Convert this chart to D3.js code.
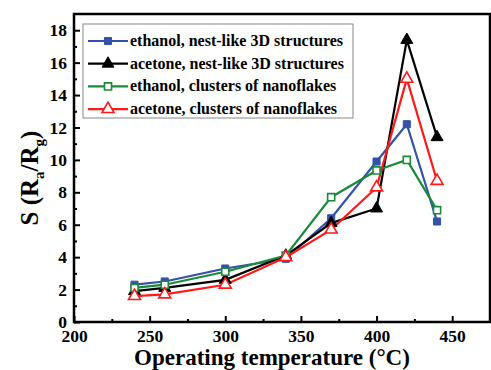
<!DOCTYPE html>
<html>
<head>
<meta charset="utf-8">
<script src="https://cdn.jsdelivr.net/npm/d3@7/dist/d3.min.js"></script>
<style>
  body { margin: 0; background: #fff; }
</style>
</head>
<body>
<div id="chart"></div>
<script>
// data
const temps = [240, 260, 300, 340, 370, 400, 420, 440];
const ethanolNest = [2.3, 2.5, 3.3, 3.9, 6.4, 9.9, 12.2, 6.2];
const acetoneNest = [1.9, 2.1, 2.6, 4.1, 6.1, 7.0, 17.4, 11.4];
const ethanolClusters = [2.1, 2.3, 3.1, 4.1, 7.7, 9.35, 10.0, 6.9];
const acetoneClusters = [1.6, 1.7, 2.3, 4.0, 5.7, 8.3, 15.0, 8.7];
const seriesNames = [
  'ethanol, nest-like 3D structures',
  'acetone, nest-like  3D structures',
  'ethanol, clusters of nanoflakes',
  'acetone, clusters of nanoflakes'
];
const xTicks = [200, 250, 300, 350, 400, 450];
const yTicks = [0, 2, 4, 6, 8, 10, 12, 14, 16, 18];

const FONT = 'Liberation Serif';

const series = [
  { name: seriesNames[0], values: ethanolNest, color: '#3352a8', marker: 'square', filled: true },
  { name: seriesNames[1], values: acetoneNest, color: '#000000', marker: 'triangle', filled: true },
  { name: seriesNames[2], values: ethanolClusters, color: '#1a8a3a', marker: 'square', filled: false },
  { name: seriesNames[3], values: acetoneClusters, color: '#ff1a1a', marker: 'triangle', filled: false }
];

const width = 491, height = 370;
const margin = { top: 14, right: 1, bottom: 48, left: 74 };

const svg = d3.select('#chart').append('svg')
  .attr('width', width)
  .attr('height', height);

const x = d3.scaleLinear().domain([200, 475]).range([margin.left, width - margin.right]);
const y = d3.scaleLinear().domain([0, 19]).range([height - margin.bottom, margin.top]);

// frame
svg.append('rect')
  .attr('x', x.range()[0]).attr('y', y.range()[1])
  .attr('width', x.range()[1] - x.range()[0])
  .attr('height', y.range()[0] - y.range()[1])
  .attr('fill', 'none').attr('stroke', '#000').attr('stroke-width', 2.5);

// axes, ticks pointing inward
svg.append('g')
  .attr('transform', `translate(0,${y(0)})`)
  .call(d3.axisBottom(x).tickValues(xTicks).tickSize(-6).tickPadding(8).tickFormat(d3.format('d')));
svg.append('g')
  .attr('transform', `translate(0,${y(0)})`)
  .call(d3.axisBottom(x).tickValues(d3.range(225, 476, 50)).tickSize(-3).tickFormat(''));

svg.append('g')
  .attr('transform', `translate(${x(200)},0)`)
  .call(d3.axisLeft(y).tickValues(yTicks).tickSize(-6).tickPadding(7).tickFormat(d3.format('d')));
svg.append('g')
  .attr('transform', `translate(${x(200)},0)`)
  .call(d3.axisLeft(y).tickValues(d3.range(1, 19, 2)).tickSize(-3).tickFormat(''));

svg.selectAll('.domain').remove();
svg.selectAll('.tick line').attr('stroke', '#000').attr('stroke-width', 2);
svg.selectAll('g').attr('font-family', FONT);
svg.selectAll('.tick text')
  .attr('fill', '#000')
  .attr('font-family', FONT)
  .attr('font-weight', 'bold')
  .attr('font-size', 17.5);

// lines
const line = d3.line()
  .x((d, i) => x(temps[i]))
  .y(d => y(d));

const symSquare = d3.symbol().type(d3.symbolSquare).size(50);
const symTri = d3.symbol().type(d3.symbolTriangle).size(62);

function drawMarker(g, s) {
  const path = s.marker === 'square' ? symSquare() : symTri();
  return g.append('path')
    .attr('d', path)
    .attr('fill', s.filled ? s.color : '#fff')
    .attr('stroke', s.color)
    .attr('stroke-width', s.filled ? 1 : 1.6);
}

series.forEach(s => {
  svg.append('path')
    .datum(s.values)
    .attr('d', line)
    .attr('fill', 'none')
    .attr('stroke', s.color)
    .attr('stroke-width', 2.2);
});
series.forEach(s => {
  s.values.forEach((v, i) => {
    const g = svg.append('g').attr('transform', `translate(${x(temps[i])},${y(v)})`);
    drawMarker(g, s);
  });
});

// legend
const legend = svg.append('g').attr('transform', 'translate(83,24)');
legend.append('rect')
  .attr('width', 270).attr('height', 94)
  .attr('fill', '#fff').attr('stroke', '#888').attr('stroke-width', 1);
series.forEach((s, i) => {
  const gy = 17 + i * 22.7;
  const row = legend.append('g').attr('transform', `translate(0,${gy})`);
  row.append('line')
    .attr('x1', 5).attr('x2', 45).attr('y1', 0).attr('y2', 0)
    .attr('stroke', s.color).attr('stroke-width', 2.2);
  drawMarker(row.append('g').attr('transform', 'translate(25,0)'), s);
  row.append('text')
    .attr('x', 47).attr('y', 5)
    .attr('font-family', FONT)
    .attr('font-weight', 'bold')
    .attr('font-size', 16)
    .text(s.name);
});

// axis titles
svg.append('text')
  .attr('x', 272).attr('y', 365)
  .attr('text-anchor', 'middle')
  .attr('font-family', FONT)
  .attr('font-weight', 'bold')
  .attr('font-size', 23)
  .text('Operating temperature (°C)');

const yt = svg.append('text')
  .attr('transform', 'translate(38,178) rotate(-90)')
  .attr('text-anchor', 'middle')
  .attr('font-family', FONT)
  .attr('font-weight', 'bold')
  .attr('font-size', 25);
yt.append('tspan').text('S (R');
yt.append('tspan').attr('dy', 6).attr('font-size', 15).text('a');
yt.append('tspan').attr('dy', -6).text('/R');
yt.append('tspan').attr('dy', 6).attr('font-size', 15).text('g');
yt.append('tspan').attr('dy', -6).text(')');
</script>
</body>
</html>
